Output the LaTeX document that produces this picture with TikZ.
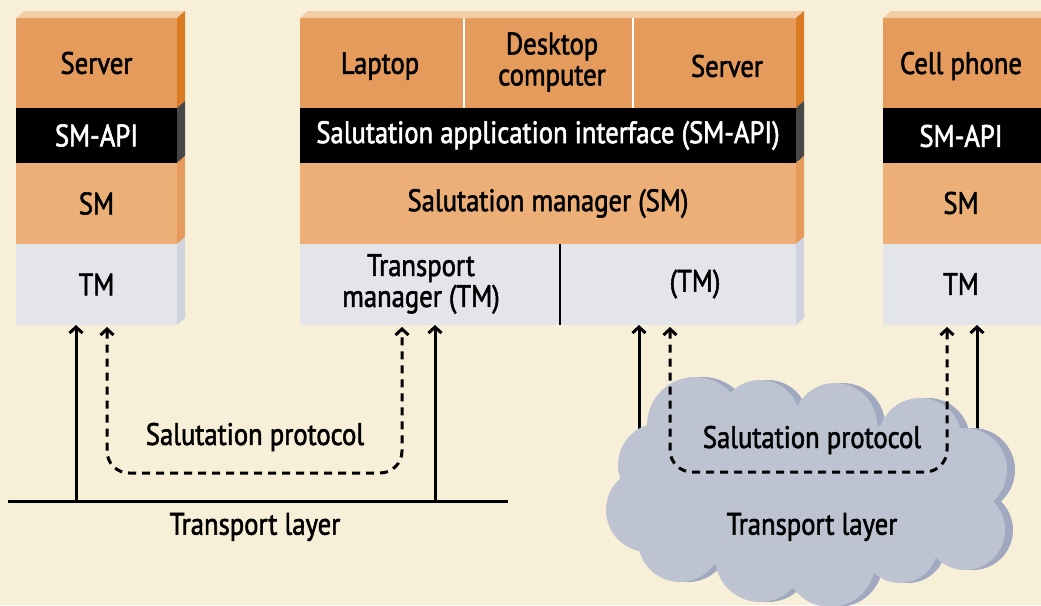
\documentclass[tikz,border=0pt]{standalone}
\usepackage{fontspec}
\setmainfont{PT Sans}[FakeStretch=0.86, FakeBold=1.8]
\usetikzlibrary{arrows.meta}
\definecolor{bg}{HTML}{F8EFD8}
\definecolor{devfill}{HTML}{E49B5C}
\definecolor{devside}{HTML}{DA7A22}
\definecolor{smfill}{HTML}{ECAF78}
\definecolor{smside}{HTML}{E49B5C}
\definecolor{tmfill}{HTML}{E4E5EA}
\definecolor{tmside}{HTML}{D0D2DE}
\definecolor{apiside}{HTML}{474747}
\definecolor{topface}{HTML}{F4CCA6}
\definecolor{cloudfill}{HTML}{BEC3D2}
\definecolor{cloudshade}{HTML}{A0A9BF}

% one layer of a device stack: name, x, y, width, height, fill, text
\newcommand\layer[7]{%
  \node[band, fill=#6, minimum width=#4pt, minimum height=#5pt] (#1) at (#2,#3) {};
  \node[lbl] at (#1.center) {#7};}
% side face of a layer
\newcommand\sideof[2]{%
  \fill[#2] (#1.north east) -- ([shift={(8,-7)}]#1.north east)
    -- ([shift={(8,-7)}]#1.south east) -- (#1.south east) -- cycle;}
% top face of a stack
\newcommand\topof[2]{%
  \fill[topface] (#1.north west) -- ([shift={(8,-7)}]#1.north west)
    -- ([shift={(8,-7)}]#2.north east) -- (#2.north east) -- cycle;}

\begin{document}
\begin{tikzpicture}[x=1pt,y=-1pt,
  band/.style={rectangle, inner sep=0pt, outer sep=0pt, anchor=north west},
  lbl/.style={inner sep=0pt, align=center, font=\fontsize{31}{31}\selectfont},
  flow/.style={line width=3pt, -{Straight Barb[length=6pt,width=13pt]}},
  proto/.style={line width=3pt, dash pattern=on 8pt off 6pt, rounded corners=22pt,
    {Straight Barb[length=6pt,width=13pt]}-{Straight Barb[length=6pt,width=13pt]}}]

\useasboundingbox (0,0) rectangle (1041,605);
\fill[bg] (0,0) rectangle (1041,605);
\clip (0,0) rectangle (1041,605);

% ---------- left stack ----------
\layer{lDev}{16}{18}{161}{90}{devfill}{Server}
\layer{lAPI}{16}{108}{161}{55}{black}{\color{white}SM-API}
\layer{lSM}{16}{163}{161}{81}{smfill}{SM}
\layer{lTM}{16}{244}{161}{81}{tmfill}{TM}
\topof{lDev}{lDev}
\sideof{lDev}{devside}\sideof{lAPI}{apiside}\sideof{lSM}{smside}\sideof{lTM}{tmside}

% ---------- middle stack ----------
\node[band, fill=devfill, minimum width=164pt, minimum height=90pt] (mLap) at (300,18) {};
\node[band, fill=devfill, minimum width=169pt, minimum height=90pt] (mDesk) at (464,18) {};
\node[band, fill=devfill, minimum width=163pt, minimum height=90pt] (mSrv) at (633,18) {};
\node[lbl] at (380,66) {Laptop};
\node[lbl] at (552,62) {Desktop\\computer};
\node[lbl] at (727,66) {Server};
\draw[white, line width=2pt] (mDesk.north west) -- (mDesk.south west);
\draw[white, line width=2pt] (mSrv.north west) -- (mSrv.south west);
\layer{mAPI}{300}{108}{496}{55}{black}{\color{white}Salutation application interface (SM-API)}
\layer{mSM}{300}{163}{496}{81}{smfill}{Salutation manager (SM)}
\node[band, fill=tmfill, minimum width=260pt, minimum height=81pt] (mTMa) at (300,244) {};
\node[band, fill=tmfill, minimum width=236pt, minimum height=81pt] (mTMb) at (560,244) {};
\node[lbl] at (421,284) {Transport\\manager (TM)};
\node[lbl] at (695,284) {(TM)};
\draw[line width=2pt] (mTMb.north west) -- (mTMb.south west);
\topof{mLap}{mSrv}
\sideof{mSrv}{devside}\sideof{mAPI}{apiside}\sideof{mSM}{smside}\sideof{mTMb}{tmside}

% ---------- right stack ----------
\layer{rDev}{883}{18}{161}{90}{devfill}{}
\node[lbl] at (961,66) {Cell phone};
\layer{rAPI}{883}{108}{161}{55}{black}{}
\node[lbl, white] at (961,136) {SM-API};
\layer{rSM}{883}{163}{161}{81}{smfill}{}
\node[lbl] at (961,203) {SM};
\layer{rTM}{883}{244}{161}{81}{tmfill}{}
\node[lbl] at (961,284) {TM};
\topof{rDev}{rDev}

% ---------- wired transport layer ----------
\coordinate (w0) at (8,501);
\coordinate (w1) at (508,501);
\coordinate (wa) at (76,501);
\coordinate (wb) at (435,501);
\coordinate (pa) at (107,473);
\coordinate (pb) at (402,473);
\draw[line width=3pt] (w0) -- (w1);
\draw[flow] (wa) -- (wa |- lTM.south);
\draw[flow] (wb) -- (wb |- mTMa.south);
\draw[proto] ([yshift=-2pt]pa |- lTM.south) -- (pa) -- (pb) -- ([yshift=-2pt]pb |- mTMa.south);
\node[lbl] (p1) at (255,437) {Salutation protocol};
\node[lbl] (t1) at (255,527) {Transport layer};

% ---------- network cloud ----------
\coordinate (ca) at (639,440);
\coordinate (cb) at (977,440);
\draw[flow] (ca) -- (ca |- mTMb.south);
\draw[flow] (cb) -- (cb |- rTM.south);
\foreach \dx/\dy/\c in {8/0/cloudshade, 0/0/cloudfill}{
  \fill[\c, shift={(\dx,\dy)}]
    (695,425) circle[radius=48] (760,420) circle[radius=40]
    (835,425) circle[radius=42] (920,440) circle[radius=42]
    (965,470) circle[radius=42] (965,530) circle[radius=40]
    (900,545) circle[radius=38] (830,562) circle[radius=45]
    (760,557) circle[radius=45] (680,540) circle[radius=42]
    (648,510) circle[radius=42] (660,465) circle[radius=42]
    (810,490) ellipse[x radius=150, y radius=72];
}
\coordinate (qa) at (670,472);
\coordinate (qb) at (947,472);
\draw[proto] ([yshift=-2pt]qa |- mTMb.south) -- (qa) -- (qb) -- ([yshift=-2pt]qb |- rTM.south);
\node[lbl] (p2) at (812,440) {Salutation protocol};
\node[lbl] (t2) at (812,527) {Transport layer};
\end{tikzpicture}
\end{document}
